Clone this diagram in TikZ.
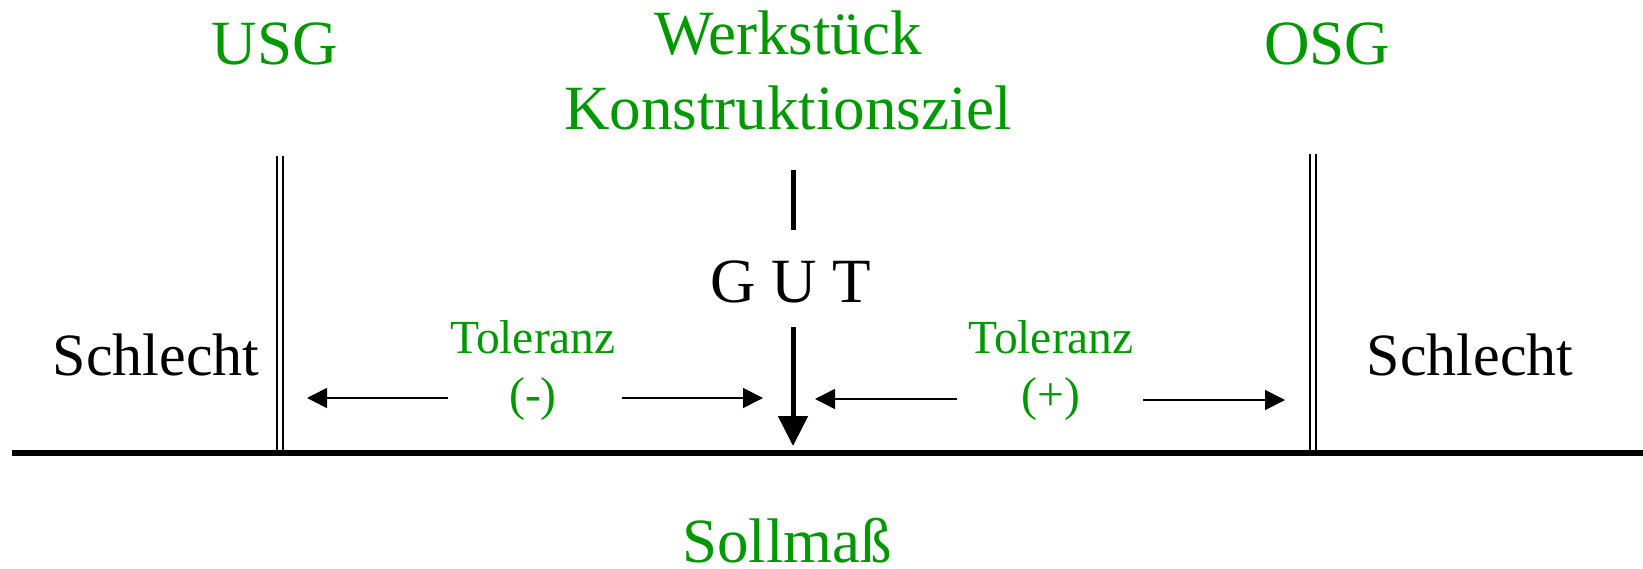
\documentclass[tikz,border=0pt]{standalone}
\usepackage{fontspec}
\setmainfont{Liberation Serif}
\usetikzlibrary{arrows.meta}
\definecolor{labelgreen}{RGB}{0,153,0}
\tikzset{
  big/.style={inner sep=0pt, anchor=base, font=\fontsize{63}{75}\selectfont},
  mid/.style={inner sep=0pt, anchor=base, font=\fontsize{60}{72}\selectfont},
  small/.style={inner sep=0pt, anchor=base, font=\fontsize{47.5}{57}\selectfont},
  green/.style={text=labelgreen},
  limit/.style={line width=2pt},
  tolarrow/.style={line width=1.6pt, -{Triangle[length=20pt,width=20pt]}},
}
\begin{document}
\begin{tikzpicture}[x=1pt,y=-1pt]
  \useasboundingbox (0,0) rectangle (1643,569);

  % nominal size axis
  \coordinate (axisL) at (12,453);
  \coordinate (axisR) at (1643,453);
  \draw[line width=6pt] (axisL) -- (axisR);

  % lower and upper limits (double lines)
  \draw[limit] (277,156) -- (277,453) (282.5,156) -- (282.5,453);
  \draw[limit] (1310,154) -- (1310,453) (1315.5,154) -- (1315.5,453);

  % labels
  \node[big,green] (usg) at (275,65) {USG};
  \node[big,green] (osg) at (1327,65) {OSG};
  \node[big,green] (werk) at (788,55) {Werkstück};
  \node[big,green] (ziel) at (788,130) {Konstruktionsziel};
  \node[big] (gut) at (791,302) {G U T};
  \node[mid] (badL) at (156,375) {Schlecht};
  \node[mid] (badR) at (1470,375) {Schlecht};
  \node[big,green,text depth=0pt] (soll) at (787,562) {Sollmaß};
  \node[small,green] (tolL) at (533,353) {Toleranz};
  \node[small,green] (tolLs) at (533,410) {(-)};
  \node[small,green] (tolR) at (1051,353) {Toleranz};
  \node[small,green] (tolRs) at (1051,410) {(+)};

  % target marker above and arrow onto the axis
  \coordinate (markTop) at (793,170);
  \coordinate (markBot) at (793,230);
  \draw[line width=5pt] (markTop) -- (markBot);
  \coordinate (arrTop) at (793,327);
  \coordinate (arrTip) at (793,446);
  \draw[line width=5pt, -{Triangle[length=30pt,width=29pt]}] (arrTop) -- (arrTip);

  % tolerance arrows
  \coordinate (tlA) at (448,398);
  \coordinate (tlB) at (307,398);
  \coordinate (tlC) at (622,398);
  \coordinate (tlD) at (763,398);
  \coordinate (trA) at (957,399);
  \coordinate (trB) at (815,399);
  \coordinate (trC) at (1143,400);
  \coordinate (trD) at (1285,400);
  \draw[tolarrow] (tlA) -- (tlB);
  \draw[tolarrow] (tlC) -- (tlD);
  \draw[tolarrow] (trA) -- (trB);
  \draw[tolarrow] (trC) -- (trD);
\end{tikzpicture}
\end{document}
